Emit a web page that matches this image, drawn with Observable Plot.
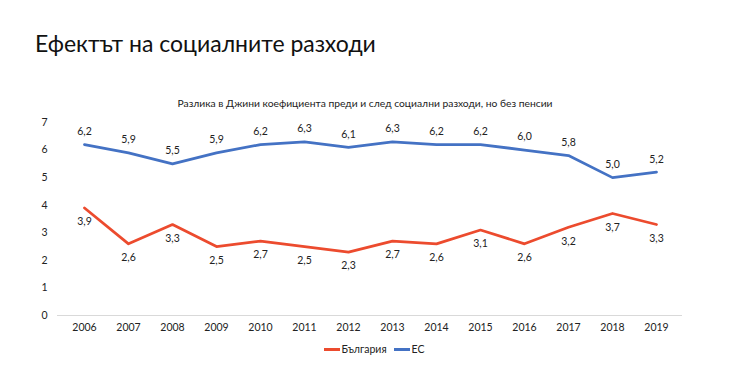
<!DOCTYPE html>
<html>
<head>
<meta charset="utf-8">
<script src="https://cdn.jsdelivr.net/npm/d3@7"></script>
<script src="https://cdn.jsdelivr.net/npm/@observablehq/plot@0.6"></script>
<style>
  html, body { margin: 0; padding: 0; background: #fff; }
  body { width: 740px; height: 381px; position: relative; overflow: hidden; font-family: Lato, "Open Sans", sans-serif; }
  #title { position: absolute; left: 35px; top: 29px; font-size: 23px; font-weight: 400; color: #111; white-space: nowrap; }
  #subtitle { position: absolute; left: 0; width: 730px; text-align: center; top: 97px; font-size: 10.3px; color: #222; }
  #chart { position: absolute; left: 0; top: 92px; }
  #legend { position: absolute; left: 0; width: 740px; top: 343px; display: flex; justify-content: center; gap: 7px; font-size: 10.5px; color: #222; padding-left: 4px; }
  #legend span.item { display: inline-flex; align-items: center; }
  #legend span.sw { display: inline-block; width: 16px; height: 3px; margin-right: 2px; }
</style>
</head>
<body>
<div id="title">Ефектът на социалните разходи</div>
<div id="subtitle">Разлика в Джини коефициента преди и след социални разходи, но без пенсии</div>
<div id="chart"></div>
<div id="legend"></div>
<script>
const years = ["2006","2007","2008","2009","2010","2011","2012","2013","2014","2015","2016","2017","2018","2019"];
const bulgaria = [3.9,2.6,3.3,2.5,2.7,2.5,2.3,2.7,2.6,3.1,2.6,3.2,3.7,3.3];
const eu = [6.2,5.9,5.5,5.9,6.2,6.3,6.1,6.3,6.2,6.2,6.0,5.8,5.0,5.2];
const seriesNames = ["България", "ЕС"];
const seriesColors = ["#EC4B2E", "#4472C4"];
const yTicks = [0,1,2,3,4,5,6,7];

const fmt = v => v.toFixed(1).replace(".", ",");
const bgData = years.map((y, i) => ({year: y, value: bulgaria[i]}));
const euData = years.map((y, i) => ({year: y, value: eu[i]}));

const plot = Plot.plot({
  width: 740,
  height: 250,
  marginLeft: 57,
  marginRight: 58,
  marginTop: 30,
  marginBottom: 27,
  style: {fontFamily: "Lato, 'Open Sans', sans-serif", fontSize: "10.5px", color: "#222", background: "transparent"},
  x: {type: "point", domain: years, padding: 0.5, label: null, tickSize: 0, tickPadding: 8},
  y: {domain: [0, 7], ticks: yTicks, label: null, tickSize: 0, tickPadding: 10, tickFormat: d => String(d)},
  marks: [
    Plot.ruleY([0], {stroke: "#d9d9d9", strokeWidth: 1}),
    Plot.line(euData, {x: "year", y: "value", stroke: seriesColors[1], strokeWidth: 2.75}),
    Plot.line(bgData, {x: "year", y: "value", stroke: seriesColors[0], strokeWidth: 2.75}),
    Plot.text(euData, {x: "year", y: "value", text: d => fmt(d.value), dy: -13, fill: "#222", fontSize: 10.5}),
    Plot.text(bgData, {x: "year", y: "value", text: d => fmt(d.value), dy: 14, fill: "#222", fontSize: 10.5})
  ]
});
document.getElementById("chart").appendChild(plot);

const legend = document.getElementById("legend");
seriesNames.forEach((name, i) => {
  const item = document.createElement("span");
  item.className = "item";
  const sw = document.createElement("span");
  sw.className = "sw";
  sw.style.background = seriesColors[i];
  item.appendChild(sw);
  item.appendChild(document.createTextNode(name));
  legend.appendChild(item);
});
</script>
</body>
</html>
